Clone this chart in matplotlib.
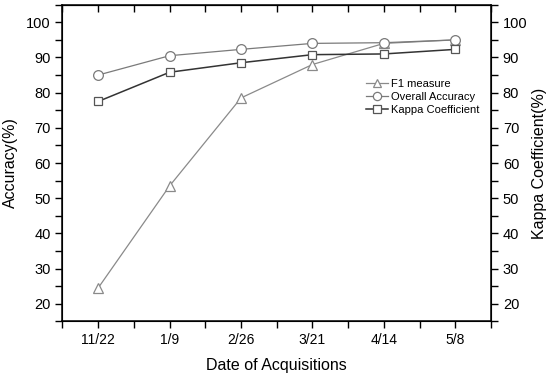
import matplotlib
matplotlib.use("Agg")
import matplotlib.pyplot as plt
from matplotlib.ticker import MultipleLocator, FixedLocator

dates = ["11/22", "1/9", "2/26", "3/21", "4/14", "5/8"]
f1 = [24.5, 53.5, 78.5, 88.0, 94.0, 95.0]
oa = [85.0, 90.5, 92.3, 94.0, 94.2, 95.0]
kappa = [77.5, 85.8, 88.5, 90.8, 91.0, 92.3]
yticks = [20, 30, 40, 50, 60, 70, 80, 90, 100]

plt.rcParams['font.family'] = ['Liberation Sans', 'DejaVu Sans']

fig = plt.figure(figsize=(5.5, 3.75), dpi=100)
ax = fig.add_axes([0.1136, 0.143, 0.7791, 0.8445])
x = list(range(len(dates)))

ax.plot(x, f1, color='#8a8a8a', lw=0.9, marker='^', ms=7, mfc='white', mec='#8a8a8a', mew=0.9, label='F1 measure', zorder=3)
ax.plot(x, oa, color='#7a7a7a', lw=0.9, marker='o', ms=7, mfc='white', mec='#7a7a7a', mew=0.9, label='Overall Accuracy', zorder=3)
ax.plot(x, kappa, color='#333333', lw=1.1, marker='s', ms=6, mfc='white', mec='#555555', mew=0.9, label='Kappa Coefficient', zorder=3)

ax.set_xlim(-0.5, 5.5)
ax.set_ylim(15, 105)
ax.set_xticks(x)
ax.set_xticklabels(dates, fontsize=10)
ax.xaxis.set_minor_locator(FixedLocator([i + 0.5 for i in range(-1, 6)]))
ax.set_yticks(yticks)
ax.set_yticklabels([str(v) for v in yticks], fontsize=10.5)
ax.yaxis.set_minor_locator(MultipleLocator(5))
ax.tick_params(axis='x', which='both', direction='out', top=False, bottom=True, length=5, width=1)
ax.tick_params(axis='y', which='both', direction='out', length=5, width=1)
for sp in ax.spines.values():
    sp.set_linewidth(1.1)

ax2 = ax.twinx()
ax2.set_ylim(15, 105)
ax2.set_yticks(yticks)
ax2.set_yticklabels([str(v) for v in yticks], fontsize=10.5)
ax2.yaxis.set_minor_locator(MultipleLocator(5))
ax2.tick_params(axis='y', which='both', direction='out', length=5, width=1)

secx = ax.secondary_xaxis('top')
secx.set_xticks(x)
secx.set_xticklabels([])
secx.xaxis.set_minor_locator(FixedLocator([i + 0.5 for i in range(-1, 6)]))
secx.tick_params(axis='x', which='both', direction='in', length=5, width=1)

ax.set_xlabel("Date of Acquisitions", fontsize=11.5, labelpad=8)
ax.set_ylabel("Accuracy(%)", fontsize=11.5, labelpad=6)
ax2.set_ylabel("Kappa Coefficient(%)", fontsize=11.5, labelpad=3)

ax.legend(loc='upper left', bbox_to_anchor=(0.69, 0.79), frameon=False, fontsize=8,
          handlelength=2.0, handletextpad=0.3, labelspacing=0.25, borderpad=0.2, markerscale=0.85)

fig.savefig("out.png", dpi=100)
